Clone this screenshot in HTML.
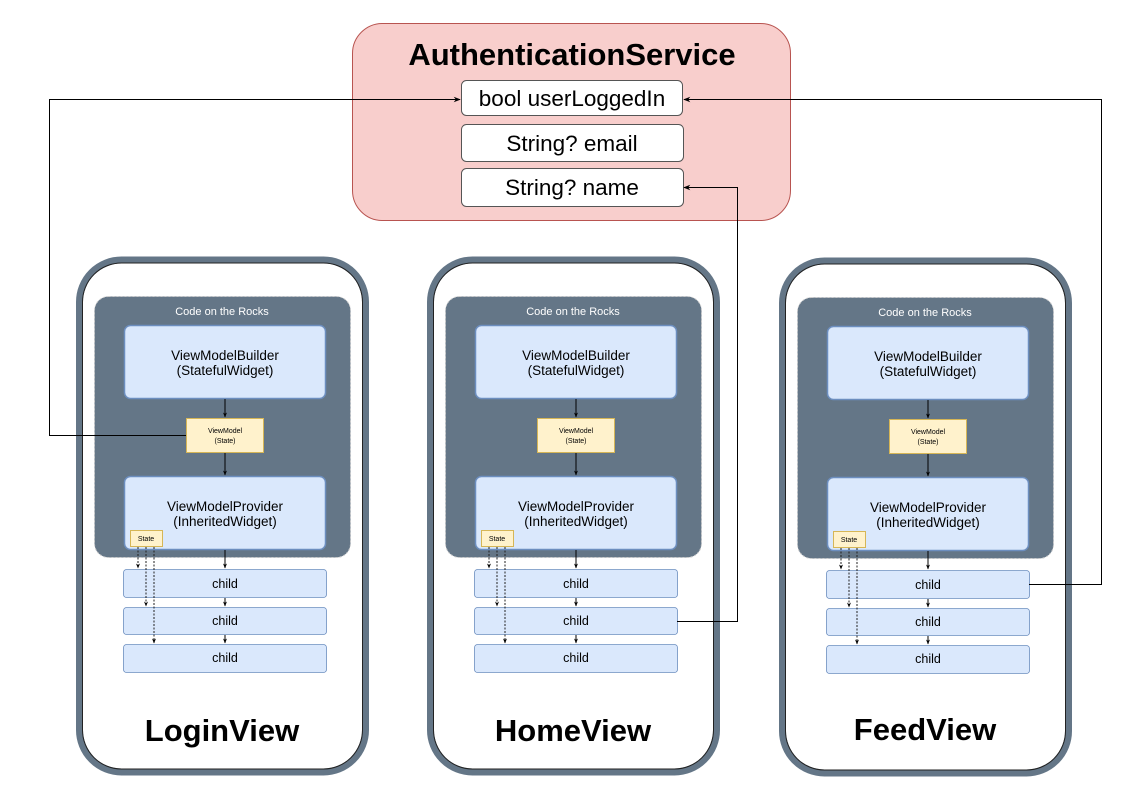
<!DOCTYPE html>
<html><head><meta charset="utf-8"><style>
html,body{margin:0;padding:0;background:#fff;}
svg{display:block;font-family:"Liberation Sans",Arial,sans-serif;}
</style></head><body>
<svg width="1147" height="807" viewBox="0 0 1147 807" xmlns="http://www.w3.org/2000/svg">
<defs>
<marker id="a" viewBox="0 0 10 10" refX="9" refY="5" markerWidth="7" markerHeight="7" orient="auto"><path d="M0,1 L10,5 L0,9 L3,5 z" fill="#000"/></marker>
<marker id="s" viewBox="0 0 10 10" refX="9" refY="5" markerWidth="5" markerHeight="5" orient="auto"><path d="M0,1 L10,5 L0,9 L3,5 z" fill="#000"/></marker>
</defs>

<rect x="352.5" y="23.5" width="438" height="197" rx="30" fill="#f8cecc" stroke="#b85450"/>
<text x="572" y="65" font-size="31" font-weight="bold" text-anchor="middle">AuthenticationService</text>
<rect x="461.5" y="80.5" width="221" height="35" rx="5" fill="#fff" stroke="#555"/>
<text x="572" y="106" font-size="22.5" text-anchor="middle">bool userLoggedIn</text>
<rect x="461.5" y="124.5" width="222" height="37" rx="5" fill="#fff" stroke="#555"/>
<text x="572" y="151" font-size="22.5" text-anchor="middle">String? email</text>
<rect x="461.5" y="168.5" width="222" height="38" rx="5" fill="#fff" stroke="#555"/>
<text x="572" y="195" font-size="22.5" text-anchor="middle">String? name</text>

<g id="v1">
<rect x="79.5" y="260" width="286" height="512" rx="42" fill="#fff" stroke="#647687" stroke-width="7"/>
<rect x="82.5" y="263" width="280" height="506" rx="39" fill="none" stroke="#222" stroke-width="1"/>
<rect x="94.5" y="296.5" width="256" height="261" rx="14" fill="#647687" stroke="#ccc" stroke-dasharray="2,2"/>
<text x="222" y="315" font-size="11" fill="#fff" text-anchor="middle">Code on the Rocks</text>
<rect x="124.5" y="325.5" width="201" height="73" rx="6" fill="#dae8fc" stroke="#6c8ebf" stroke-width="1.5"/>
<text x="225" y="360" font-size="13.5" text-anchor="middle">ViewModelBuilder</text>
<text x="225" y="375" font-size="13.5" text-anchor="middle">(StatefulWidget)</text>
<line x1="225" y1="399" x2="225" y2="417" stroke="#000" marker-end="url(#s)"/>
<rect x="186.5" y="418.5" width="77" height="34" fill="#fff2cc" stroke="#d6b656"/>
<text x="225" y="433" font-size="7" text-anchor="middle">ViewModel</text>
<text x="225" y="443" font-size="7" text-anchor="middle">(State)</text>
<line x1="225" y1="453" x2="225" y2="475" stroke="#000" marker-end="url(#s)"/>
<rect x="124.5" y="476.5" width="201" height="73" rx="6" fill="#dae8fc" stroke="#6c8ebf" stroke-width="1.5"/>
<text x="225" y="511" font-size="13.5" text-anchor="middle">ViewModelProvider</text>
<text x="225" y="526" font-size="13.5" text-anchor="middle">(InheritedWidget)</text>
<rect x="130.5" y="530.5" width="32" height="16" fill="#fff2cc" stroke="#d6b656"/>
<text x="146" y="541" font-size="7" text-anchor="middle">State</text>
<line x1="225" y1="550" x2="225" y2="568" stroke="#000" marker-end="url(#s)"/>
<rect x="123.5" y="569.5" width="203" height="28" rx="3" fill="#dae8fc" stroke="#6c8ebf" stroke-width="0.8"/>
<text x="225" y="588" font-size="12.5" text-anchor="middle">child</text>
<line x1="225" y1="598" x2="225" y2="606" stroke="#000" marker-end="url(#s)"/>
<rect x="123.5" y="607.5" width="203" height="27" rx="3" fill="#dae8fc" stroke="#6c8ebf" stroke-width="0.8"/>
<text x="225" y="625" font-size="12.5" text-anchor="middle">child</text>
<line x1="225" y1="635" x2="225" y2="643" stroke="#000" marker-end="url(#s)"/>
<rect x="123.5" y="644.5" width="203" height="28" rx="3" fill="#dae8fc" stroke="#6c8ebf" stroke-width="0.8"/>
<text x="225" y="662" font-size="12.5" text-anchor="middle">child</text>
<g stroke="#222" stroke-dasharray="2,1.5" fill="none">
<line x1="138" y1="547" x2="138" y2="568" marker-end="url(#s)"/>
<line x1="146" y1="547" x2="146" y2="606" marker-end="url(#s)"/>
<line x1="154" y1="547" x2="154" y2="643" marker-end="url(#s)"/>
</g>
</g>
<text x="222" y="741" font-size="31" font-weight="bold" text-anchor="middle">LoginView</text>

<use href="#v1" transform="translate(351,0)"/>
<text x="573" y="741" font-size="31" font-weight="bold" text-anchor="middle">HomeView</text>

<use href="#v1" transform="translate(703,1)"/>
<text x="925" y="740" font-size="31" font-weight="bold" text-anchor="middle">FeedView</text>

<polyline points="186,435.5 49.5,435.5 49.5,99.5 460,99.5" fill="none" stroke="#000" marker-end="url(#a)"/>
<polyline points="1029,584.5 1101.5,584.5 1101.5,99.5 684,99.5" fill="none" stroke="#000" marker-end="url(#a)"/>
<polyline points="677,621.5 737.5,621.5 737.5,187.5 684,187.5" fill="none" stroke="#000" marker-end="url(#a)"/>
</svg>
</body></html>
